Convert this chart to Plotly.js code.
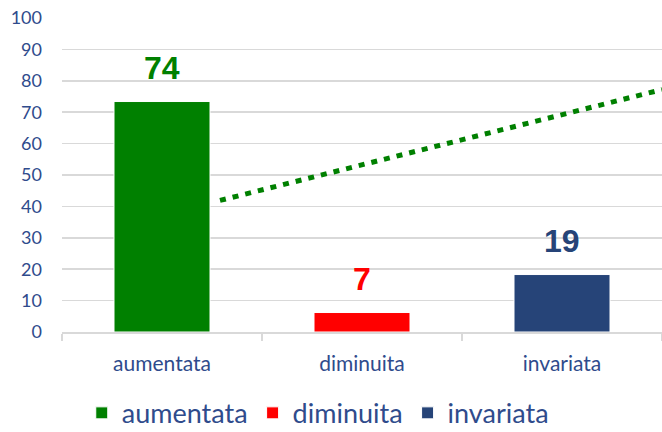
<!DOCTYPE html>
<html>
<head>
<meta charset="utf-8">
<script src="https://cdn.plot.ly/plotly-3.0.1.min.js"></script>
<style>
html,body{margin:0;padding:0;background:#fff;}
#chart{width:662px;height:432px;}
</style>
</head>
<body>
<div id="chart"></div>
<script>
var categories = ["aumentata", "diminuita", "invariata"];
var barValues = [73.4, 6.2, 18.3];
var valueLabels = ["74", "7", "19"];
var barColors = ["#008000", "#FF0000", "#264478"];
var trendX = [0.29, 2.5];
var trendY = [41.9, 77.2];
var yTicks = [0, 10, 20, 30, 40, 50, 60, 70, 80, 90, 100];

var textColor = "#2F4B8C";
var traces = [];
for (var i = 0; i < categories.length; i++) {
  traces.push({
    type: "bar",
    x: [categories[i]],
    y: [barValues[i]],
    name: categories[i],
    width: 0.48,
    marker: {color: barColors[i], line: {color: "#ffffff", width: 1}},
    hoverinfo: "skip"
  });
}
traces.push({
  type: "scatter",
  mode: "lines",
  x: trendX,
  y: trendY,
  xaxis: "x2",
  showlegend: false,
  line: {color: "#008000", width: 5, dash: "6px,7px"},
  hoverinfo: "skip"
});

var annotations = [];
for (var j = 0; j < categories.length; j++) {
  annotations.push({
    x: categories[j], y: barValues[j], xref: "x", yref: "y",
    text: "<b>" + valueLabels[j] + "</b>",
    showarrow: false, yanchor: "bottom", yshift: 14,
    font: {family: "Liberation Sans, Arial, sans-serif", size: 32, color: barColors[j]}
  });
}

var layout = {
  width: 662, height: 432,
  margin: {l: 62, r: 0, t: 18, b: 100},
  paper_bgcolor: "#ffffff", plot_bgcolor: "#ffffff",
  barmode: "overlay",
  font: {family: "Lato, sans-serif", color: textColor},
  xaxis: {
    type: "category",
    categoryorder: "array", categoryarray: categories,
    range: [-0.5, 2.5],
    showline: true, linecolor: "#d9d9d9", linewidth: 1.5,
    ticks: "outside", tickson: "boundaries", ticklen: 7, tickcolor: "#d9d9d9", tickwidth: 1.5,
    showgrid: false, zeroline: false,
    tickfont: {size: 21, color: textColor},
    ticklabelstandoff: 12
  },
  xaxis2: {
    overlaying: "x", range: [-0.5, 2.5], visible: false, type: "linear"
  },
  yaxis: {
    range: [0, 100], tickvals: yTicks, ticktext: yTicks.map(String),
    showgrid: true, gridcolor: "#d9d9d9", gridwidth: 1.5,
    zeroline: false, showline: false, ticks: "",
    tickfont: {size: 18, color: textColor},
    ticklabelstandoff: 19
  },
  showlegend: true,
  legend: {
    orientation: "h", xref: "container", yref: "container",
    x: 0.48, xanchor: "center", y: 0.1, yanchor: "top",
    font: {size: 27, color: textColor},
    itemwidth: 30, traceorder: "normal"
  },
  annotations: annotations
};

Plotly.newPlot("chart", traces, layout, {displayModeBar: false, staticPlot: true});
</script>
</body>
</html>
